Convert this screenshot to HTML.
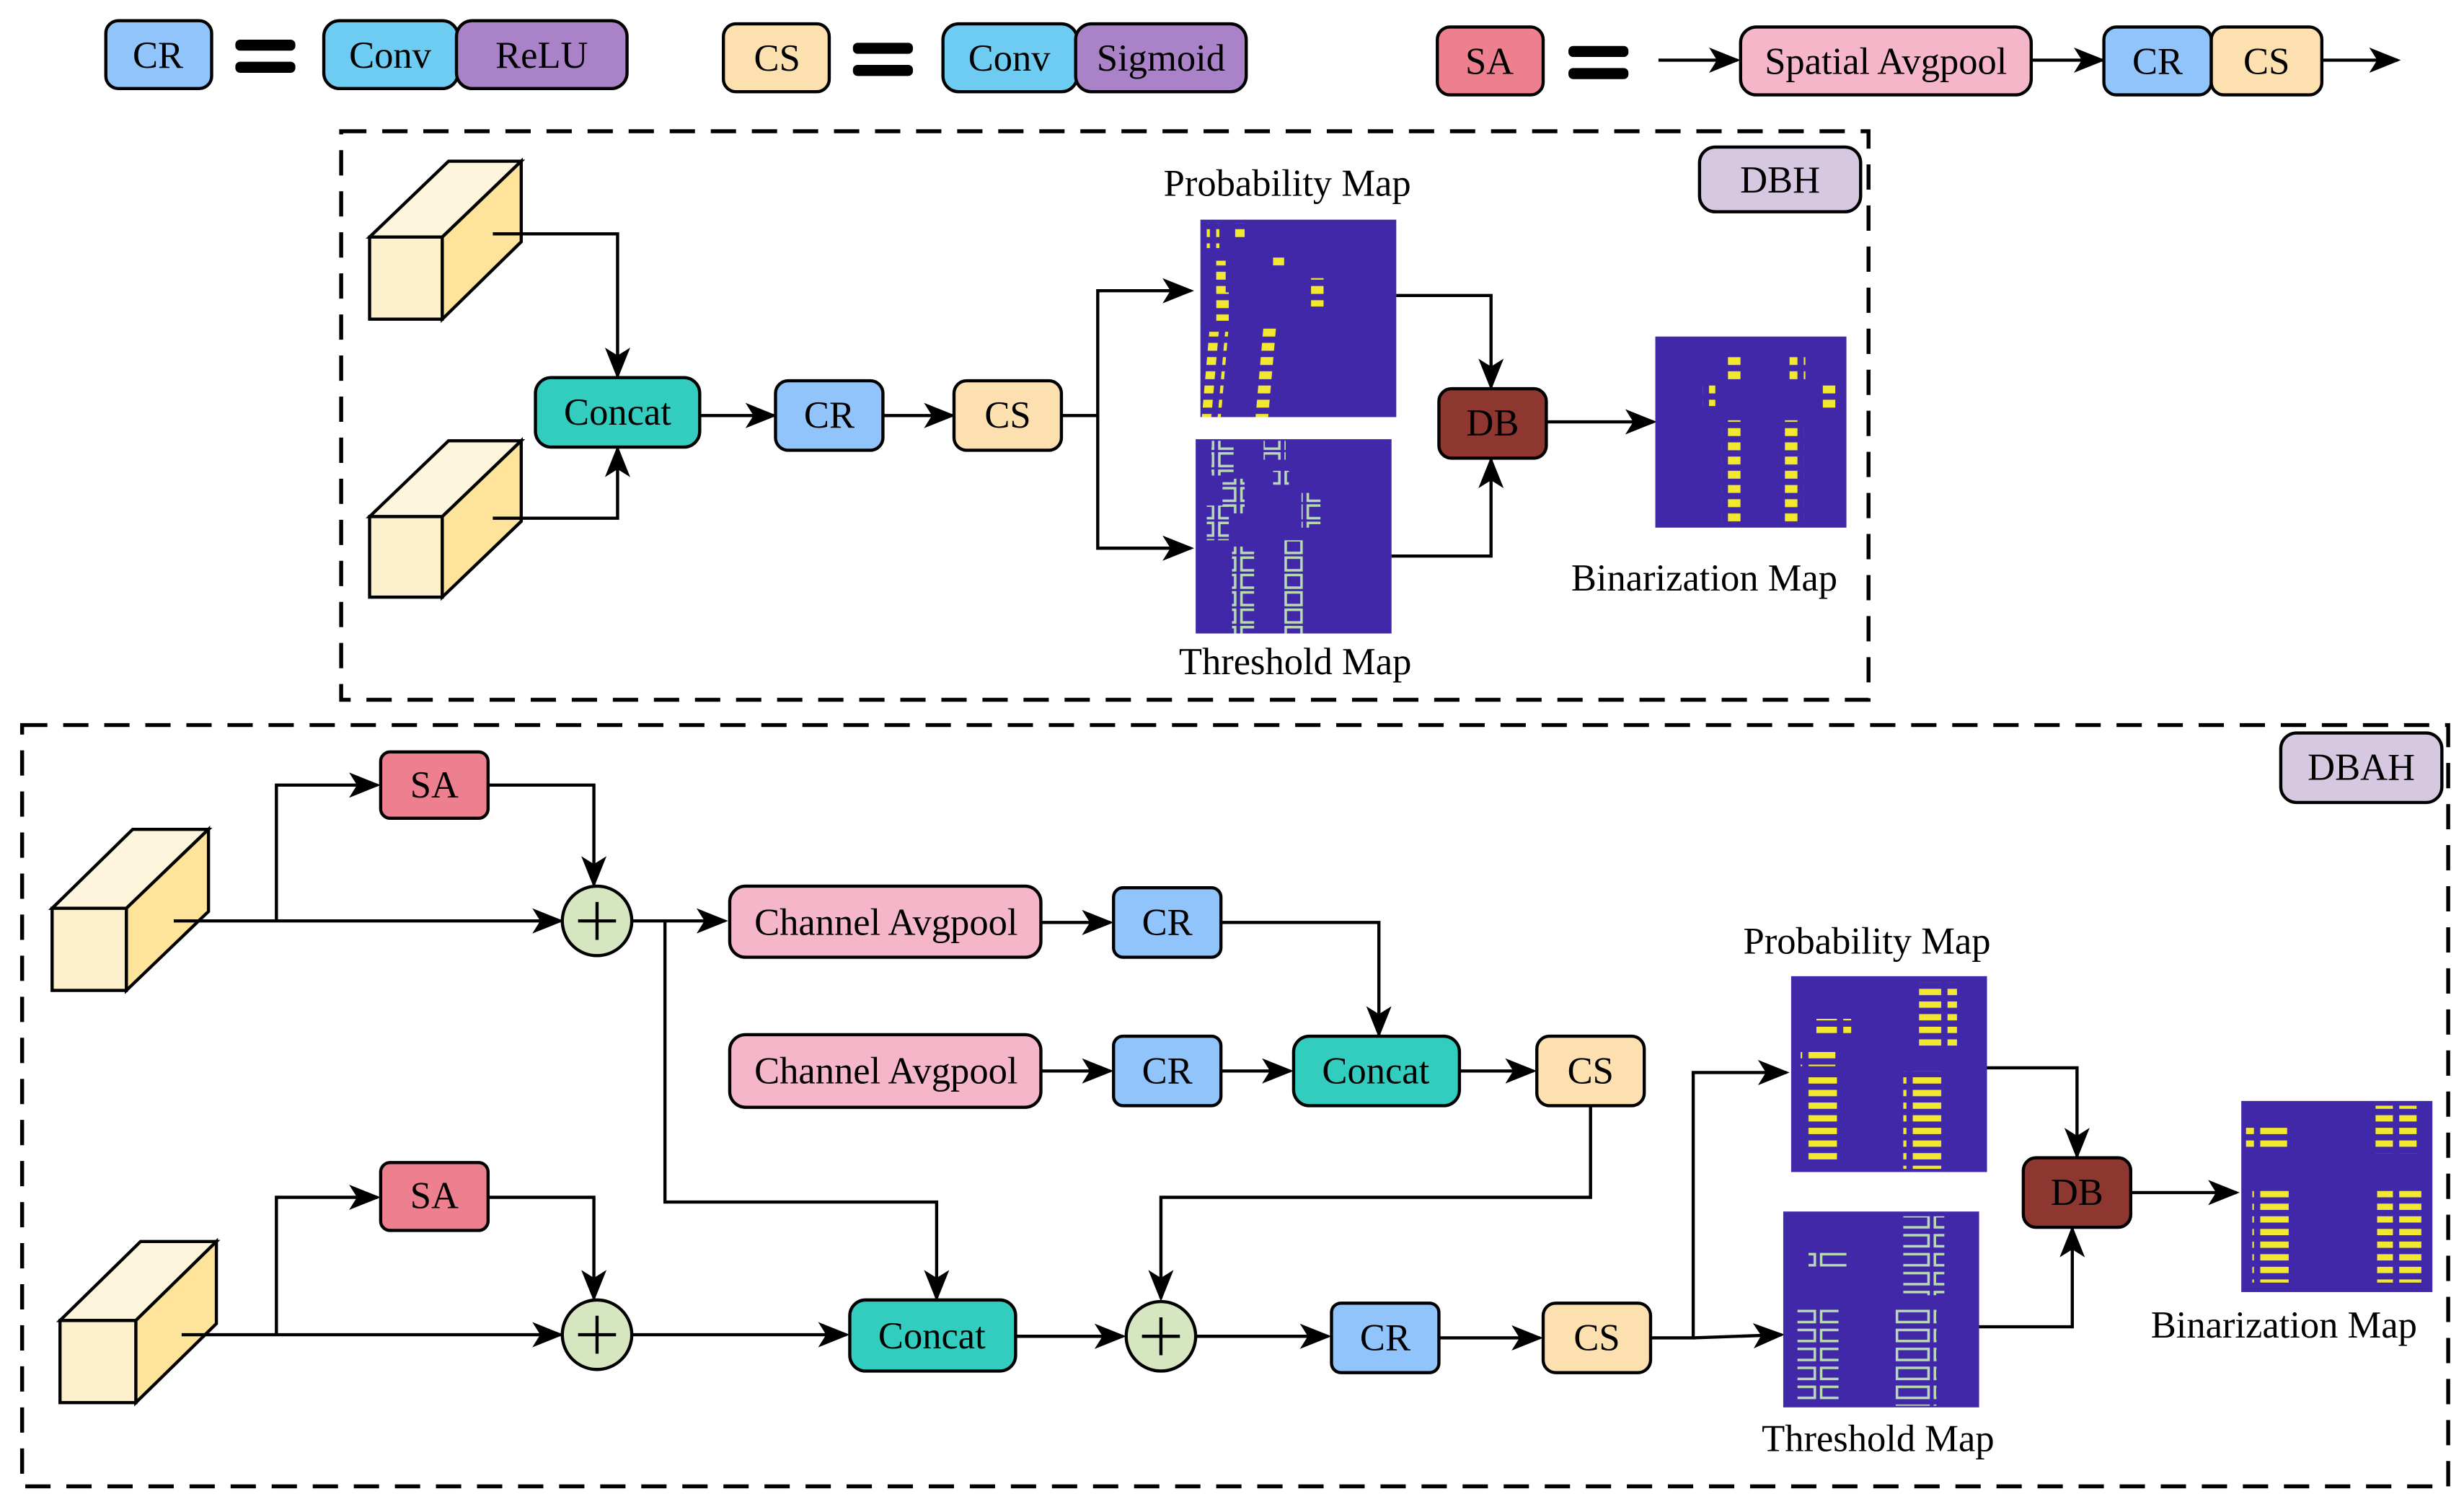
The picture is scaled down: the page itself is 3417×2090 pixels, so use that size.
<!DOCTYPE html>
<html><head><meta charset="utf-8"><style>
html,body{margin:0;padding:0;background:#fff;}
svg{display:block;}
text{font-family:"Liberation Serif",serif;font-size:24px;text-anchor:middle;dominant-baseline:central;fill:#000;}
.b{stroke:#000;stroke-width:2;}
.l{stroke:#000;stroke-width:2;fill:none;}
.d{stroke:#000;stroke-width:2.5;fill:none;stroke-dasharray:16 10;}
</style></head><body>
<svg width="3417" height="2090" viewBox="0 0 1560 954" xmlns="http://www.w3.org/2000/svg">
<defs>
<marker id="m" markerWidth="20" markerHeight="16" refX="18" refY="8" orient="auto" markerUnits="userSpaceOnUse"><path d="M0,0 L20,8 L0,16 L5,8 z" fill="#000"/></marker>
<pattern id="py" width="12" height="9" patternUnits="userSpaceOnUse"><rect x="2" y="1" width="8" height="5" fill="#f2e830"/></pattern>
<pattern id="pt" width="14" height="11" patternUnits="userSpaceOnUse"><rect x="2" y="1" width="10" height="8" fill="none" stroke="#b9d9b0" stroke-width="1.6"/></pattern>
<pattern id="ph" width="22" height="8" patternUnits="userSpaceOnUse"><rect x="1" y="2" width="18" height="4" fill="#f2e830"/></pattern>
<pattern id="pth" width="24" height="12" patternUnits="userSpaceOnUse"><rect x="1" y="2" width="20" height="7" fill="none" stroke="#b9d9b0" stroke-width="1.6"/></pattern>
</defs>

<!-- Legend -->
<rect class="b" x="67" y="13" width="67" height="43" rx="8" fill="#90c4fb"/><text x="100" y="35">CR</text>
<rect x="149" y="25" width="38" height="7" rx="3" fill="#000"/><rect x="149" y="39" width="38" height="7" rx="3" fill="#000"/>
<rect class="b" x="205" y="13" width="85" height="43" rx="10" fill="#6ecbf2"/><text x="247" y="35">Conv</text>
<rect class="b" x="289" y="13" width="108" height="43" rx="10" fill="#a982c8"/><text x="343" y="35">ReLU</text>

<rect class="b" x="458" y="15" width="67" height="43" rx="8" fill="#fde0b0"/><text x="492" y="37">CS</text>
<rect x="540" y="27" width="38" height="7" rx="3" fill="#000"/><rect x="540" y="41" width="38" height="7" rx="3" fill="#000"/>
<rect class="b" x="597" y="15" width="85" height="43" rx="10" fill="#6ecbf2"/><text x="639" y="37">Conv</text>
<rect class="b" x="681" y="15" width="108" height="43" rx="10" fill="#a982c8"/><text x="735" y="37">Sigmoid</text>

<rect class="b" x="910" y="17" width="67" height="43" rx="8" fill="#ee7f8f"/><text x="943" y="39">SA</text>
<rect x="993" y="29" width="38" height="7" rx="3" fill="#000"/><rect x="993" y="43" width="38" height="7" rx="3" fill="#000"/>
<line class="l" x1="1050" y1="38" x2="1100" y2="38" marker-end="url(#m)"/>
<rect class="b" x="1102" y="17" width="184" height="43" rx="10" fill="#f4b6c8"/><text x="1194" y="39">Spatial Avgpool</text>
<line class="l" x1="1286" y1="38" x2="1331" y2="38" marker-end="url(#m)"/>
<rect class="b" x="1332" y="17" width="68" height="43" rx="8" fill="#90c4fb"/><text x="1366" y="39">CR</text>
<rect class="b" x="1400" y="17" width="70" height="43" rx="8" fill="#fde0b0"/><text x="1435" y="39">CS</text>
<line class="l" x1="1470" y1="38" x2="1518" y2="38" marker-end="url(#m)"/>

<!-- DBH -->
<rect class="d" x="216" y="83" width="967" height="360"/>
<rect class="b" x="1076" y="93" width="102" height="41" rx="10" fill="#d5c8e0"/><text x="1127" y="114">DBH</text>

<g class="b">
<polygon points="234,150 284,102 330,102 280,150" fill="#fdf6dc"/>
<polygon points="280,150 330,102 330,153 280,202" fill="#fde49a"/>
<rect x="234" y="150" width="46" height="52" fill="#fdf0cc"/>
<polygon points="234,327 284,279 330,279 280,327" fill="#fdf6dc"/>
<polygon points="280,327 330,279 330,330 280,378" fill="#fde49a"/>
<rect x="234" y="327" width="46" height="51" fill="#fdf0cc"/>
</g>
<polyline class="l" points="312,148 391,148 391,238" marker-end="url(#m)"/>
<polyline class="l" points="312,328 391,328 391,284" marker-end="url(#m)"/>
<rect class="b" x="339" y="239" width="104" height="44" rx="10" fill="#33cdc0"/><text x="391" y="261">Concat</text>
<line class="l" x1="443" y1="263" x2="490" y2="263" marker-end="url(#m)"/>
<rect class="b" x="491" y="241" width="68" height="44" rx="8" fill="#90c4fb"/><text x="525" y="263">CR</text>
<line class="l" x1="559" y1="263" x2="603" y2="263" marker-end="url(#m)"/>
<rect class="b" x="604" y="241" width="68" height="44" rx="8" fill="#fde0b0"/><text x="638" y="263">CS</text>
<polyline class="l" points="672,263 695,263 695,184 754,184" marker-end="url(#m)"/>
<polyline class="l" points="695,263 695,347 754,347" marker-end="url(#m)"/>

<text x="815" y="116">Probability Map</text>
<rect x="760" y="139" width="124" height="125" fill="#4028a8"/>
<rect x="764" y="141" width="8" height="16" fill="url(#py)"/>
<rect x="780" y="141" width="8" height="10" fill="url(#py)"/>
<rect x="768" y="165" width="8" height="20" fill="url(#py)"/>
<rect x="805" y="160" width="8" height="8" fill="url(#py)"/>
<rect x="830" y="176" width="8" height="18" fill="url(#py)"/>
<rect x="770" y="185" width="8" height="18" fill="url(#py)"/>
<rect x="784" y="210" width="12" height="54" fill="url(#py)" transform="skewX(-5)"/>
<rect x="816" y="205" width="12" height="59" fill="url(#py)" transform="skewX(-5)"/>

<text x="820" y="419">Threshold Map</text>
<rect x="757" y="278" width="124" height="123" fill="#4028a8"/>
<rect x="767" y="279" width="14" height="22" fill="url(#pt)"/>
<rect x="800" y="279" width="14" height="12" fill="url(#pt)"/>
<rect x="806" y="298" width="10" height="9" fill="url(#pt)"/>
<rect x="774" y="303" width="14" height="22" fill="url(#pt)"/>
<rect x="824" y="312" width="12" height="22" fill="url(#pt)"/>
<rect x="764" y="320" width="14" height="22" fill="url(#pt)"/>
<rect x="780" y="346" width="14" height="55" fill="url(#pt)"/>
<rect x="813" y="342" width="14" height="59" fill="url(#pt)"/>

<polyline class="l" points="884,187 944,187 944,245" marker-end="url(#m)"/>
<polyline class="l" points="881,352 944,352 944,291" marker-end="url(#m)"/>
<rect class="b" x="911" y="246" width="68" height="44" rx="8" fill="#8e3630"/><text x="945" y="268" fill="#fff">DB</text>
<line class="l" x1="979" y1="267" x2="1047" y2="267" marker-end="url(#m)"/>
<rect x="1048" y="213" width="121" height="121" fill="#4028a8"/>
<rect x="1092" y="226" width="10" height="17" fill="url(#py)"/>
<rect x="1133" y="226" width="10" height="17" fill="url(#py)"/>
<rect x="1078" y="241" width="8" height="16" fill="url(#py)"/>
<rect x="1154" y="243" width="8" height="16" fill="url(#py)"/>
<rect x="1090" y="266" width="12" height="68" fill="url(#py)"/>
<rect x="1130" y="266" width="12" height="68" fill="url(#py)"/>
<text x="1079" y="366">Binarization Map</text>

<!-- DBAH -->
<rect class="d" x="14" y="459" width="1536" height="482"/>
<rect class="b" x="1444" y="464" width="102" height="44" rx="10" fill="#d5c8e0"/><text x="1495" y="486">DBAH</text>

<g class="b">
<polygon points="33,575 84,525 132,525 80,575" fill="#fdf6dc"/>
<polygon points="80,575 132,525 132,577 80,627" fill="#fde49a"/>
<rect x="33" y="575" width="47" height="52" fill="#fdf0cc"/>
<polygon points="38,836 89,786 137,786 86,836" fill="#fdf6dc"/>
<polygon points="86,836 137,786 137,838 86,888" fill="#fde49a"/>
<rect x="38" y="836" width="48" height="52" fill="#fdf0cc"/>
</g>

<polyline class="l" points="110,583 355,583" marker-end="url(#m)"/>
<polyline class="l" points="175,583 175,497 239,497" marker-end="url(#m)"/>
<rect class="b" x="241" y="476" width="68" height="42" rx="6" fill="#ee7f8f"/><text x="275" y="497">SA</text>
<polyline class="l" points="309,497 376,497 376,560" marker-end="url(#m)"/>
<circle class="b" cx="378" cy="583" r="22" fill="#d5e6c0"/>
<path class="l" d="M366,583 H390 M378,571 V595"/>
<line class="l" x1="400" y1="583" x2="459" y2="583" marker-end="url(#m)"/>
<rect class="b" x="462" y="561" width="197" height="45" rx="10" fill="#f4b6c8"/><text x="561" y="584">Channel Avgpool</text>
<line class="l" x1="659" y1="584" x2="703" y2="584" marker-end="url(#m)"/>
<rect class="b" x="705" y="562" width="68" height="44" rx="6" fill="#90c4fb"/><text x="739" y="584">CR</text>
<polyline class="l" points="773,584 873,584 873,655" marker-end="url(#m)"/>

<rect class="b" x="462" y="655" width="197" height="46" rx="10" fill="#f4b6c8"/><text x="561" y="678">Channel Avgpool</text>
<line class="l" x1="659" y1="678" x2="703" y2="678" marker-end="url(#m)"/>
<rect class="b" x="705" y="656" width="68" height="44" rx="6" fill="#90c4fb"/><text x="739" y="678">CR</text>
<line class="l" x1="773" y1="678" x2="817" y2="678" marker-end="url(#m)"/>
<rect class="b" x="819" y="656" width="105" height="44" rx="10" fill="#33cdc0"/><text x="871" y="678">Concat</text>
<line class="l" x1="924" y1="678" x2="971" y2="678" marker-end="url(#m)"/>
<rect class="b" x="973" y="656" width="68" height="44" rx="8" fill="#fde0b0"/><text x="1007" y="678">CS</text>

<polyline class="l" points="421,583 421,761 593,761 593,822" marker-end="url(#m)"/>

<polyline class="l" points="115,845 355,845" marker-end="url(#m)"/>
<polyline class="l" points="175,845 175,758 239,758" marker-end="url(#m)"/>
<rect class="b" x="241" y="736" width="68" height="43" rx="6" fill="#ee7f8f"/><text x="275" y="757">SA</text>
<polyline class="l" points="309,758 376,758 376,822" marker-end="url(#m)"/>
<circle class="b" cx="378" cy="845" r="22" fill="#d5e6c0"/>
<path class="l" d="M366,845 H390 M378,833 V857"/>
<line class="l" x1="400" y1="845" x2="536" y2="845" marker-end="url(#m)"/>
<rect class="b" x="538" y="823" width="105" height="45" rx="10" fill="#33cdc0"/><text x="590" y="846">Concat</text>
<line class="l" x1="643" y1="846" x2="711" y2="846" marker-end="url(#m)"/>
<polyline class="l" points="1007,700 1007,758 735,758 735,822" marker-end="url(#m)"/>
<circle class="b" cx="735" cy="846" r="22" fill="#d5e6c0"/>
<path class="l" d="M723,846 H747 M735,834 V858"/>
<line class="l" x1="757" y1="846" x2="841" y2="846" marker-end="url(#m)"/>
<rect class="b" x="843" y="825" width="68" height="44" rx="6" fill="#90c4fb"/><text x="877" y="847">CR</text>
<line class="l" x1="911" y1="847" x2="975" y2="847" marker-end="url(#m)"/>
<rect class="b" x="977" y="825" width="68" height="44" rx="8" fill="#fde0b0"/><text x="1011" y="847">CS</text>
<polyline class="l" points="1045,847 1072,847 1072,679 1131,679" marker-end="url(#m)"/>
<polyline class="l" points="1072,847 1128,845" marker-end="url(#m)"/>

<text x="1182" y="596">Probability Map</text>
<rect x="1134" y="618" width="124" height="124" fill="#4028a8"/>
<rect x="1150" y="645" width="22" height="10" fill="url(#ph)"/>
<rect x="1215" y="622" width="24" height="40" fill="url(#ph)"/>
<rect x="1140" y="665" width="22" height="10" fill="url(#ph)"/>
<rect x="1142" y="682" width="24" height="55" fill="url(#ph)"/>
<rect x="1205" y="678" width="26" height="62" fill="url(#ph)"/>

<text x="1189" y="911">Threshold Map</text>
<rect x="1129" y="767" width="124" height="124" fill="#4028a8"/>
<rect x="1145" y="792" width="24" height="12" fill="url(#pth)"/>
<rect x="1205" y="770" width="26" height="50" fill="url(#pth)"/>
<rect x="1138" y="828" width="26" height="60" fill="url(#pth)"/>
<rect x="1198" y="828" width="28" height="62" fill="url(#pth)"/>

<polyline class="l" points="1258,676 1315,676 1315,732" marker-end="url(#m)"/>
<polyline class="l" points="1253,840 1312,840 1312,778" marker-end="url(#m)"/>
<rect class="b" x="1281" y="733" width="68" height="44" rx="8" fill="#8e3630"/><text x="1315" y="755" fill="#fff">DB</text>
<line class="l" x1="1349" y1="755" x2="1416" y2="755" marker-end="url(#m)"/>
<rect x="1419" y="697" width="121" height="121" fill="#4028a8"/>
<rect x="1422" y="712" width="26" height="16" fill="url(#ph)"/>
<rect x="1504" y="700" width="26" height="30" fill="url(#ph)"/>
<rect x="1426" y="752" width="26" height="60" fill="url(#ph)"/>
<rect x="1505" y="752" width="28" height="60" fill="url(#ph)"/>
<text x="1446" y="839">Binarization Map</text>
</svg>
</body></html>
